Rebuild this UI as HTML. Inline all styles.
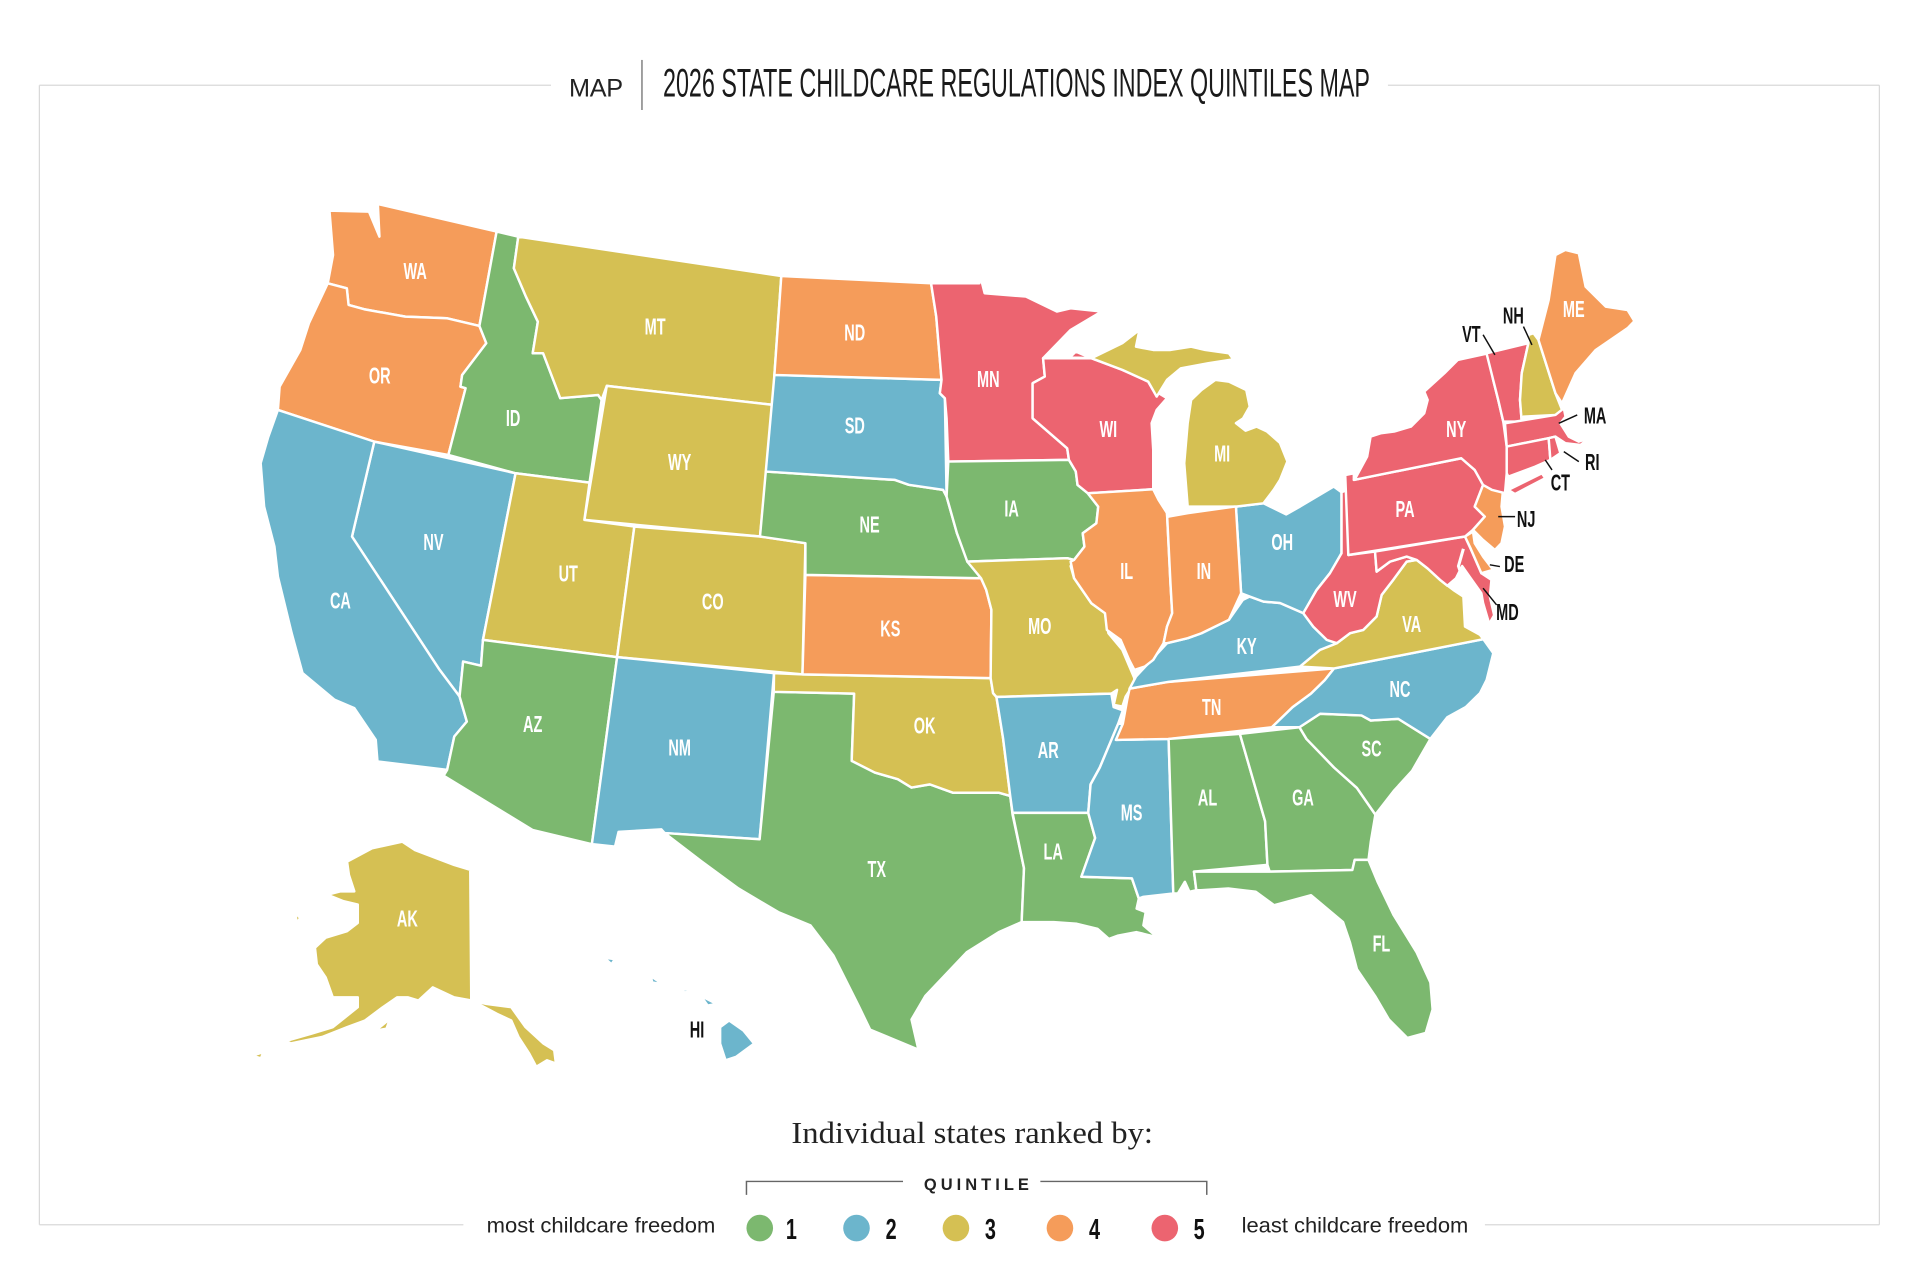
<!DOCTYPE html>
<html><head><meta charset="utf-8"><style>
html,body{margin:0;padding:0;background:#fff;}
body{width:1920px;height:1281px;overflow:hidden;}
svg{display:block;}
.st{stroke:#fff;stroke-width:2;stroke-linejoin:round;}
.g{fill:#7cb86f}.b{fill:#6cb5cc}.y{fill:#d5c053}.o{fill:#f59c5a}.r{fill:#ec6470}
.lb{font-family:"Liberation Sans",sans-serif;font-weight:bold;font-size:19px;fill:#fff;text-anchor:middle;}
.lk{font-family:"Liberation Sans",sans-serif;font-weight:bold;font-size:19px;fill:#111;text-anchor:middle;}
</style></head><body>
<svg width="1920" height="1281" viewBox="0 0 1560 1041" preserveAspectRatio="none" xmlns="http://www.w3.org/2000/svg">
<!-- frame -->
<g stroke="#d9d9d9" stroke-width="1" fill="none">
<line x1="32" y1="69.3" x2="447.7" y2="69.3"/>
<line x1="1127.7" y1="69.3" x2="1527" y2="69.3"/>
<line x1="32" y1="69.3" x2="32" y2="995.3"/>
<line x1="1527" y1="69.3" x2="1527" y2="995.3"/>
<line x1="32" y1="995.3" x2="376.5" y2="995.3"/>
<line x1="1206.5" y1="995.3" x2="1527" y2="995.3"/>
</g>
<!-- title -->
<text x="462.3" y="78.5" font-family="Liberation Sans, sans-serif" font-size="20.5" fill="#222" textLength="44" lengthAdjust="spacing">MAP</text>
<line x1="521.6" y1="48.7" x2="521.6" y2="89.4" stroke="#666" stroke-width="1"/>
<text x="538.7" y="78.5" font-family="Liberation Sans Narrow, Liberation Sans, sans-serif" font-size="32" fill="#1a1a1a" textLength="574.4" lengthAdjust="spacingAndGlyphs">2026 STATE CHILDCARE REGULATIONS INDEX QUINTILES MAP</text>

<!-- states -->
<g class="st">
<polygon class="o" points="267.7,171.2 299.8,172 308.3,192.3 307,165.8 403.5,188.2 389.5,264.9 362.9,258.6 329.3,257.3 295.8,251.3 283.2,247.8 281.8,234.3 266.3,230.2 270.6,207.2"/>
<polygon class="o" points="266.3,230.2 281.8,234.3 283.2,247.8 295.8,251.3 329.3,257.3 362.9,258.6 389.5,264.9 395.1,278.9 375.5,304.7 374.1,314.2 378.3,315.5 364.3,369.7 304.1,358.9 225.8,333.1 227.2,314.2 244,284.4 251,262.7"/>
<polygon class="g" points="403.5,188.2 421.1,192.3 417.5,218 427.3,241 437,261.4 432.8,287.1 441.3,287.1 455.2,323.6 486,321 488.8,325 479,392.2 418.9,384.6 364.3,369.7 378.3,315.5 374.1,314.2 375.5,304.7 395.1,278.9 389.5,264.9"/>
<polygon class="y" points="421.1,192.3 634.8,224.3 629.2,304.7 628,329 493,313.6 488.8,325 486,321 455.2,323.6 441.3,287.1 432.8,287.1 437,261.4 427.3,241 417.5,218"/>
<polygon class="y" points="493,313.6 628,329 617.5,436 474.8,422.5"/>
<polygon class="b" points="304.1,358.9 418.9,384.6 392.4,520 390.8,541 376.3,537.6 373.4,566 357.2,544.4 286,436"/>
<polygon class="b" points="225.8,333.1 304.1,358.9 286,436 357.2,544.4 373.4,566 379.3,586.4 369.1,598.5 366.2,612 363.3,625.6 306.7,618.8 305.3,601.2 287.9,575.5 271.9,568.7 245.8,547 237,514.6 231.4,491.6 225.8,468.6 223,444.2 214.6,411.7 211.8,376.4 218,355"/>
<polygon class="y" points="418.9,384.6 479,392.2 474.8,422.5 515.4,427.9 501.4,534 392.4,520"/>
<polygon class="y" points="515.4,427.9 617.5,436 654.4,441.4 652,548 501.4,534"/>
<polygon class="g" points="392.4,520 501.4,534 480.9,686 433,674.6 360.4,630.4 363.3,625.6 366.2,612 369.1,598.5 379.3,586.4 373.4,566 376.3,537.6 390.8,541"/>
<polygon class="b" points="501.4,534 628.9,547 617.2,682 540,677 537.4,674 502.6,676 499.7,688 480.9,686"/>
<polygon class="g" points="628.7,562.2 694,563.7 692,618.3 710.8,627.8 729.5,633.2 740.6,640 755.5,637.4 774.2,644.2 811.5,644.2 820.8,646.8 822.7,662 832,705.6 830.1,749.3 811.5,757.5 785.4,773.9 751.8,809.4 740.6,828.5 746.2,853 707,836.7 697.7,817.5 677.2,776.6 658.5,752 632.4,741.2 600,722 570,700 540,677 617.2,682"/>
<polygon class="y" points="628.9,547 652,548 804.9,551.1 806.9,563.3 809.6,566.4 815,600 820.8,646.8 811.5,644.2 774.2,644.2 755.5,637.4 740.6,640 729.5,633.2 710.8,627.8 692,618.3 694,563.7 628.7,562.2"/>
<polygon class="o" points="654.4,467.2 797.1,469.9 801.3,479.4 805.5,495.6 804.9,551.1 652,548"/>
<polygon class="g" points="622.2,383.2 727.2,390 738.4,394 766.3,398.1 769.1,403.5 777.5,433.3 787.3,457.7 797.1,469.9 654.4,467.2 654.4,441.4 617.5,436"/>
<polygon class="b" points="629.2,304.7 765,308.7 763.6,319.6 767.7,323.6 769.1,403.5 766.3,398.1 738.4,394 727.2,390 622.2,383.2"/>
<polygon class="o" points="634.8,224.3 756.5,230.2 760.7,257.3 765,308.7 629.2,304.7"/>
<polygon class="r" points="756.5,230.2 795.8,230.2 795.8,221.5 800,238.3 833.5,241 858.7,253.2 869.9,250.5 895,253.2 869.9,268.1 847.5,291.1 848.9,306 839,311.4 839,339.9 867.1,364.3 868.5,373.7 770.5,375.1 769.1,340 767.7,323.6 763.6,319.6 765,308.7 760.7,257.3"/>
<polygon class="g" points="770.5,375.1 868.5,373.7 874.1,383.2 875.5,394.1 883.8,400.8 892.3,411.7 890.8,425.2 879.7,433.3 881.1,444.2 872.7,455 867.1,453.6 785.9,456.4 777.5,433.3 769.1,403.5"/>
<polygon class="y" points="785.9,456.4 867.1,453.6 872.7,455 869.9,460 872.7,469.9 886.7,490.2 897.8,498.3 900.6,514.6 911.9,528.1 921.6,551 921.6,555.2 914.6,566 911.9,574.2 904.9,572.8 907.6,560.6 903,563.7 809.6,566.4 806.9,563.3 804.9,551.1 805.5,495.6 801.3,479.4 797.1,469.9"/>
<polygon class="b" points="809.6,566.4 903,563.7 904.8,574.6 912.3,577.3 908.5,588.2 893.6,623.7 886.1,637.4 884.2,660.6 822.7,660.6 820.8,646.8 815,600"/>
<polygon class="g" points="822.7,660.6 884.2,660.6 889.8,681 878.6,712.5 919.7,713.8 925.3,730.2 923.5,738.4 930.9,741.2 929,752 940.2,761.6 923.5,757.5 908.5,760.3 901,763 891.7,754.8 874.9,750.7 856.2,749.3 830.1,749.3 832,705.6"/>
<polygon class="b" points="906.7,601.3 949.5,600.5 953.3,726.1 929,728.8 925.3,730.2 919.7,713.8 878.6,712.5 889.8,681 884.2,660.6 886.1,637.4 893.6,623.7 908.5,588.2 912.3,588.2"/>
<polygon class="o" points="917.8,559.6 949.5,554.1 1083.9,543.2 1076.4,552.7 1065.2,563.7 1050.3,574.6 1033.4,591 949.5,600.5 906.7,601.3 912.3,588.2 916,567.8"/>
<polygon class="g" points="949.5,600.5 1007.4,596.4 1027.9,667.4 1029.8,702.8 970.1,708.3 972,723.4 966.4,724.7 962.7,716.6 957,726.1 953.3,726.1"/>
<polygon class="g" points="1007.4,596.4 1055.8,591 1061.5,600.5 1083.9,623.7 1102.5,640.3 1117.5,662 1113.8,683.8 1111.9,698.8 1100.7,698.8 1098.8,707 1031.6,708.3 1029.8,702.8 1027.9,667.4"/>
<polygon class="g" points="970.1,708.3 1031.6,708.3 1098.8,707 1100.7,698.8 1111.9,698.8 1119.3,716.6 1132.4,743.8 1151,773.9 1162.2,798.4 1164,820.3 1158.4,839.4 1143.5,843.5 1128.5,828.5 1117.3,809.4 1102.5,787.6 1096.8,765.7 1091.2,749.3 1065.2,727.5 1035.3,735.6 1020.3,724.7 998,722 975.6,723.4 972,723.4"/>
<polygon class="g" points="1055.8,591 1072.6,580 1106.2,581.4 1113.7,585.5 1136.1,584.2 1162.2,600.5 1147.3,626.4 1132.4,642.8 1117.5,662 1102.5,640.3 1083.9,623.7 1061.5,600.5"/>
<polygon class="b" points="1083.9,543.2 1205.2,519.4 1213.3,530.8 1207.9,552.5 1202.5,563.3 1190.9,574.6 1176,582.8 1162.2,600.5 1136.1,584.2 1113.7,585.5 1106.2,581.4 1072.6,580 1055.8,591 1033.4,591 1050.3,574.6 1065.2,563.7 1076.4,552.7"/>
<polygon class="y" points="1056.2,541.7 1072.5,528.1 1086.1,522.7 1096.9,514.6 1107.7,511.9 1118.5,501 1122.6,483.4 1132,471.2 1142.9,456.4 1151,455 1160,462 1170,471.2 1180.8,479.4 1189,484.8 1190.3,509.2 1202.5,515.9 1205.2,519.4 1083.9,543.2"/>
<polygon class="b" points="923,549.8 948.2,522.7 965,518.6 976.2,514.6 998.5,503.7 1009.8,487.5 1015.4,484.8 1026.6,488.9 1040,490 1058.9,498.3 1067,509.2 1078,520 1086.1,522.7 1072.5,528.1 1056.2,541.7 949.5,554.1 917.8,559.6"/>
<polygon class="b" points="1004.2,411.7 1026.6,409 1045,418 1056.2,411.7 1083.6,395.4 1090,400 1090,449.6 1080.6,465.8 1069.8,479.4 1058.9,498.3 1040,490 1026.6,488.9 1015.4,484.8 1008.4,482.1"/>
<polygon class="r" points="1090,400 1095,398 1095.5,451 1117.2,448.2 1118.5,464.5 1129.4,456.4 1142.9,452.3 1151,455 1142.9,456.4 1132,471.2 1122.6,483.4 1118.5,501 1107.7,511.9 1096.9,514.6 1086.1,522.7 1078,520 1067,509.2 1058.9,498.3 1069.8,479.4 1080.6,465.8 1090,449.6"/>
<polygon class="r" points="1117.2,448.2 1190.3,436 1195,446 1203.6,465.8 1211.8,471.2 1210.5,484.8 1214,500 1210,507 1205,490 1203.6,482.1 1195,470 1188,460 1183,470 1176,476 1170,471.2 1160,462 1151,455 1142.9,452.3 1129.4,456.4 1118.5,464.5"/>
<polygon class="o" points="1190.3,436 1196.8,432 1198.2,441.4 1205,452.3 1213.2,463.1 1203.6,465.8 1195,446"/>
<polygon class="r" points="1093,386 1100,384.6 1100,390 1187.3,372.4 1198.2,381.9 1205,394.1 1198.2,411.7 1206.4,419.8 1196.8,430.6 1190.3,436 1095.5,451"/>
<polygon class="o" points="1203.6,391.4 1221.4,395.4 1220,411.7 1222.8,427.9 1220,441.4 1214.6,446.9 1205,438.8 1196.8,430.6 1206.4,419.8 1198.2,411.7 1205,394.1"/>
<polygon class="r" points="1101.3,388.6 1110.8,371 1113.6,354.8 1121.7,352.1 1132.7,350.7 1146.4,346.7 1157.2,335.8 1160,325 1157.2,318.2 1173.6,303.3 1184.5,292.5 1209.2,287.1 1213.2,308.7 1217.3,325 1221.4,342.6 1224.2,362.9 1224.2,384.6 1222.8,400.8 1212,398 1205,394.1 1198.2,381.9 1187.3,372.4 1100,390"/>
<polygon class="r" points="1225.5,398.1 1252.8,384.6 1255.5,388.6 1230.9,401.5"/>
<polygon class="r" points="1207.8,287.1 1241.8,278.9 1236.4,303.3 1235,325 1236.4,342.6 1221.4,342.6 1217.3,325 1213.2,308.7"/>
<polygon class="y" points="1241.8,272.2 1246,270.8 1250,276.2 1263.8,319.6 1269.2,333.1 1263.8,337.2 1237.8,338.6 1236.4,342.6 1235,325 1236.4,303.3 1241.8,278.9"/>
<polygon class="o" points="1250,276.2 1258.3,243.7 1263.8,207.2 1271.9,203.1 1282.8,205.8 1288.3,232.9 1304.7,249.2 1322.4,251.9 1328,261 1322.4,266.7 1296.5,284.4 1280.1,303.3 1269.2,327.7 1263.8,319.6"/>
<polygon class="r" points="1222.8,344 1263.8,337.2 1270.6,331.8 1272,338.6 1267.8,344 1274.6,354.8 1282.8,358.9 1291,356.1 1284.2,361.6 1272,360.2 1263.8,354.8 1258.3,356.1 1224.2,362.9"/>
<polygon class="r" points="1224.2,362.9 1258.3,356.1 1259.7,373.7 1247.3,379.2 1225.5,387.3 1224.2,384.6"/>
<polygon class="r" points="1258.3,356.1 1263.8,354.8 1267.8,368.3 1259.7,373.7"/>
<polygon class="r" points="886.7,291.1 847.5,291.1 848.9,306 839,311.4 839,339.9 867.1,364.3 868.5,373.7 874.1,383.2 875.5,394.1 883.8,400.8 937,397.6 937,365.6 935.7,343.9 939.8,333.1 948.2,323.6 937,316.9 932.9,310.1 911.9,300.6 886.7,291.1 874.1,285.7 869.9,289.8 853.1,289.8"/>
<polygon class="y" points="886.7,291.1 911.9,278.9 925.8,268.1 923,281.7 937,284.4 951,284.4 967.8,281.7 979.1,284.4 998.5,287.1 1002,292 981.8,295.2 959.4,299.3 948.2,308.7 939.8,322.3 932.9,310.1 911.9,300.6"/>
<polygon class="y" points="965,411.7 962.2,376.5 965,343.9 967.8,325 976.2,316.9 987.5,308.7 998.5,310.1 1012.6,316.9 1015.4,330.4 1010,340 1004.2,343.9 1012,350 1021,346.7 1029.5,350.7 1040,360 1046,375 1040,390 1034.9,398 1026.6,409 1004.2,411.7"/>
<polygon class="o" points="885.3,400.8 937,397.6 941.3,406.2 948.2,417 951,474 952.4,498.3 948.2,509.2 945.4,522.7 937,536.3 930.1,541.7 921.7,544.4 917.5,536.3 910.5,520 899.3,511.9 897.8,498.3 886.7,490.2 872.7,469.9 869.9,456.4 872.7,455 881.1,444.2 879.7,433.3 890.8,425.2 892.3,411.7 883.8,400.8"/>
<polygon class="o" points="949.6,419.8 965,417 1002.8,411.7 1004.2,411.7 1008.4,482.1 998.5,503.7 976.2,514.6 965,518.6 948.2,522.7 945.4,522.7 948.2,509.2 952.4,498.3 951,474 948.2,417"/>
<!-- Alaska -->
<polygon class="y" points="282,700.2 302.3,689.4 326.9,684 337.2,690.8 369,702.9 382.1,706.9 382.9,813.1 395.1,815.8 415.4,818.5 427,834.7 441.6,848.1 450.3,853.4 451.7,864.3 444.4,861.6 435.7,866.9 430,856.2 421.3,842.7 415.4,829.3 403.8,823.9 383.5,813.1 369,810.5 351.6,802.4 340,813.1 331.3,810.5 322.6,810.5 311,818.5 296.6,829.3 282,834.7 261.7,842.7 235.6,848.1 234.2,845.4 253,840 270.4,834.7 290.7,818.5 290.7,810.5 270.4,810.5 264.6,794.3 257.4,783.6 255.9,770.2 264.6,762 282,756.7 290.7,750 290.7,735.1 279.2,732.4 266.1,727.1 276.3,724.4 287.9,724.4 283.5,711"/>
<polygon class="y" points="305.3,837.4 316.9,827.9 314,836"/>
<polygon class="y" points="205,858 214,855 212,860"/>
<polygon class="y" points="240,742 244,746 241,750"/>
<!-- Hawaii -->
<polygon class="b" points="585.1,834.7 592.4,829.3 604,837.4 612.7,848.1 598.2,858.8 589.5,861.6 585.1,848.1"/>
<polygon class="b" points="569.2,809.1 582.2,815.8 575,817.2"/>
<polygon class="b" points="553.3,803.7 564.8,805.1 556,806.5"/>
<polygon class="b" points="528.6,793 534.3,797 537.2,799.7 530,798.4"/>
<polygon class="b" points="490.9,778.2 499.6,779.5 496.8,783.6"/>
</g>
<polyline points="1189,446 1185,460 1190,475 1198,489 1203,503" fill="none" stroke="#fff" stroke-width="2.5"/>

<!-- state labels -->
<g class="lb">
<text transform="translate(337.3,226.9) scale(0.62,1)">WA</text>
<text transform="translate(308.5,311.5) scale(0.62,1)">OR</text>
<text transform="translate(416.9,346.3) scale(0.62,1)">ID</text>
<text transform="translate(532.3,271.7) scale(0.62,1)">MT</text>
<text transform="translate(552.2,382.1) scale(0.62,1)">WY</text>
<text transform="translate(352.2,446.8) scale(0.62,1)">NV</text>
<text transform="translate(276.6,494.6) scale(0.62,1)">CA</text>
<text transform="translate(461.7,472.7) scale(0.62,1)">UT</text>
<text transform="translate(579.1,495.5) scale(0.62,1)">CO</text>
<text transform="translate(432.8,595) scale(0.62,1)">AZ</text>
<text transform="translate(552.2,614) scale(0.62,1)">NM</text>
<text transform="translate(694.5,276.6) scale(0.62,1)">ND</text>
<text transform="translate(694.5,352.3) scale(0.62,1)">SD</text>
<text transform="translate(706.5,432.9) scale(0.62,1)">NE</text>
<text transform="translate(723.4,517.4) scale(0.62,1)">KS</text>
<text transform="translate(751.2,596) scale(0.62,1)">OK</text>
<text transform="translate(712.4,712.5) scale(0.62,1)">TX</text>
<text transform="translate(803,314.5) scale(0.62,1)">MN</text>
<text transform="translate(821.9,419.9) scale(0.62,1)">IA</text>
<text transform="translate(844.8,515.4) scale(0.62,1)">MO</text>
<text transform="translate(851.7,615.9) scale(0.62,1)">AR</text>
<text transform="translate(855.7,698.5) scale(0.62,1)">LA</text>
<text transform="translate(900.5,355.3) scale(0.62,1)">WI</text>
<text transform="translate(915.4,470.7) scale(0.62,1)">IL</text>
<text transform="translate(993,375.2) scale(0.62,1)">MI</text>
<text transform="translate(978.1,470.7) scale(0.62,1)">IN</text>
<text transform="translate(1041.8,446.8) scale(0.62,1)">OH</text>
<text transform="translate(1012.9,531.4) scale(0.62,1)">KY</text>
<text transform="translate(984.5,581.1) scale(0.62,1)">TN</text>
<text transform="translate(919.4,666.7) scale(0.62,1)">MS</text>
<text transform="translate(981.1,654.7) scale(0.62,1)">AL</text>
<text transform="translate(1058.7,654.7) scale(0.62,1)">GA</text>
<text transform="translate(1122.4,773.2) scale(0.62,1)">FL</text>
<text transform="translate(1114.4,614.9) scale(0.62,1)">SC</text>
<text transform="translate(1137.5,566.3) scale(0.62,1)">NC</text>
<text transform="translate(1147,513.4) scale(0.62,1)">VA</text>
<text transform="translate(1092.8,493.1) scale(0.62,1)">WV</text>
<text transform="translate(1141.6,420) scale(0.62,1)">PA</text>
<text transform="translate(1183.2,355) scale(0.62,1)">NY</text>
<text transform="translate(1278.7,257.5) scale(0.62,1)">ME</text>
<text transform="translate(331,753) scale(0.62,1)">AK</text>
</g>
<g class="lk">
<text transform="translate(566.3,843) scale(0.62,1)">HI</text>
<text transform="translate(1195.5,277.8) scale(0.62,1)">VT</text>
<text transform="translate(1229.6,262.9) scale(0.62,1)">NH</text>
<text transform="translate(1296,344.2) scale(0.62,1)">MA</text>
<text transform="translate(1293.7,382.1) scale(0.62,1)">RI</text>
<text transform="translate(1267.8,398.4) scale(0.62,1)">CT</text>
<text transform="translate(1240,428.1) scale(0.62,1)">NJ</text>
<text transform="translate(1230.3,464.7) scale(0.62,1)">DE</text>
<text transform="translate(1224.8,504) scale(0.62,1)">MD</text>
</g>
<g stroke="#111" stroke-width="1.2" fill="none">
<line x1="1205" y1="272" x2="1214.6" y2="288.4"/>
<line x1="1237.8" y1="265.4" x2="1244.7" y2="280.3"/>
<line x1="1281.5" y1="337.2" x2="1266.5" y2="344"/>
<line x1="1282.8" y1="375.1" x2="1270.6" y2="367"/>
<line x1="1261" y1="381.9" x2="1255.5" y2="373.7"/>
<line x1="1231" y1="419.8" x2="1217.3" y2="419.8"/>
<line x1="1218.7" y1="460.4" x2="1210.5" y2="459"/>
<line x1="1216" y1="491.6" x2="1205" y2="478"/>
</g>

<!-- legend -->
<text x="643" y="929" font-family="Liberation Serif, serif" font-size="25" fill="#222" textLength="293.8" lengthAdjust="spacingAndGlyphs">Individual states ranked by:</text>
<polyline points="606.5,971 606.5,960.1 733.7,960.1" fill="none" stroke="#666" stroke-width="1.2"/>
<polyline points="845.3,960.1 980.5,960.1 980.5,971" fill="none" stroke="#666" stroke-width="1.2"/>
<text x="750.7" y="967" font-family="Liberation Sans, sans-serif" font-weight="bold" font-size="13.4" fill="#222" textLength="85.3" lengthAdjust="spacing">QUINTILE</text>
<text x="395.4" y="1001.5" font-family="Liberation Sans, sans-serif" font-size="17" fill="#222" textLength="185.8" lengthAdjust="spacingAndGlyphs">most childcare freedom</text>
<text x="1008.8" y="1001.5" font-family="Liberation Sans, sans-serif" font-size="17" fill="#222" textLength="184.2" lengthAdjust="spacingAndGlyphs">least childcare freedom</text>
<circle cx="617.3" cy="998" r="10.8" class="g"/>
<circle cx="695.9" cy="998" r="10.8" class="b"/>
<circle cx="776.7" cy="998" r="10.8" class="y"/>
<circle cx="861.2" cy="998" r="10.8" class="o"/>
<circle cx="946.4" cy="998" r="10.8" class="r"/>
<g font-family="Liberation Sans, sans-serif" font-weight="bold" font-size="23" fill="#111" text-anchor="middle">
<text transform="translate(643,1007) scale(0.7,1)">1</text>
<text transform="translate(724,1007) scale(0.7,1)">2</text>
<text transform="translate(804.7,1007) scale(0.7,1)">3</text>
<text transform="translate(889.3,1007) scale(0.7,1)">4</text>
<text transform="translate(974.3,1007) scale(0.7,1)">5</text>
</g>
</svg>
</body></html>
